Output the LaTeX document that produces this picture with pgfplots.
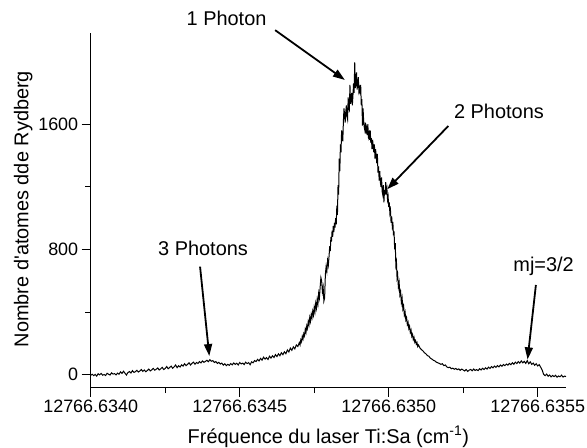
\documentclass[border=0pt]{standalone}
\usepackage{pgfplots}
\pgfplotsset{compat=1.18}
\usetikzlibrary{arrows.meta}
\usepackage{fontspec}
\setmainfont{Liberation Sans}
\begin{document}
\begin{tikzpicture}
\begin{axis}[
  scale only axis,
  width=475.3bp, height=354.4bp,
  xmin=0, xmax=15.95, ymin=-83, ymax=2180,
  axis x line*=bottom, axis y line*=left,
  axis line style={line width=0.9bp},
  every tick/.style={line width=0.9bp, black},
  tick align=outside,
  major tick length=9bp, minor tick length=5.5bp,
  xtick={0,5,10,15},
  xticklabels={12766.6340,12766.6345,12766.6350,12766.6355},
  minor x tick num=1,
  ytick={0,800,1600},
  minor y tick num=1,
  /pgf/number format/assume math mode=true,
  /pgf/number format/1000 sep={},
  tick label style={font=\fontsize{18}{20}\selectfont},
  label style={font=\fontsize{20}{22}\selectfont},
  xlabel={Fréquence du laser Ti:Sa (cm\textsuperscript{-1})},
  ylabel={Nombre d\textquotesingle atomes dde Rydberg},
  xlabel style={at={(axis description cs:0.5,-0.139)}, anchor=center},
  ylabel style={at={(axis description cs:-0.142,0.504)}, anchor=center, rotate=0},
  clip=false,
]
\addplot[black, line width=1bp, mark=none] coordinates {
(0.00,-4)(0.05,3)(0.10,-6)(0.15,2)(0.20,-9)(0.25,6)(0.30,-1)(0.35,8)(0.40,-3)(0.45,1)
(0.50,-5)(0.55,9)(0.60,3)(0.65,-2)(0.70,12)(0.75,4)(0.80,7)(0.85,-1)(0.90,10)(0.95,3)
(1.00,18)(1.05,8)(1.10,22)(1.15,10)(1.20,-2)(1.25,14)(1.30,20)(1.35,11)(1.40,26)(1.45,15)
(1.50,19)(1.55,28)(1.60,17)(1.65,24)(1.70,33)(1.75,21)(1.80,30)(1.85,19)(1.90,27)(1.95,36)
(2.00,24)(2.05,31)(2.10,40)(2.15,29)(2.20,35)(2.25,43)(2.30,30)(2.35,38)(2.40,47)(2.45,33)
(2.50,40)(2.55,52)(2.60,38)(2.65,46)(2.70,55)(2.75,41)(2.80,50)(2.85,62)(2.90,45)(2.95,57)
(3.00,49)(3.05,63)(3.10,55)(3.15,70)(3.20,58)(3.25,66)(3.30,76)(3.35,62)(3.40,73)(3.45,80)
(3.50,67)(3.55,78)(3.60,72)(3.65,84)(3.70,75)(3.75,88)(3.80,79)(3.85,85)(3.90,92)(3.95,83)
(4.00,96)(4.05,86)(4.10,90)(4.15,78)(4.20,84)(4.25,72)(4.30,79)(4.35,68)(4.40,74)(4.45,61)
(4.50,70)(4.55,58)(4.60,66)(4.65,60)(4.70,71)(4.75,63)(4.80,75)(4.85,66)(4.90,73)(4.95,62)
(5.00,78)(5.05,69)(5.10,74)(5.15,65)(5.20,80)(5.25,71)(5.30,77)(5.35,64)(5.40,82)(5.45,76)
(5.50,90)(5.55,84)(5.60,98)(5.65,88)(5.70,104)(5.75,93)(5.80,112)(5.85,100)(5.90,109)(5.95,97)
(6.00,118)(6.05,106)(6.10,121)(6.15,110)(6.20,128)(6.25,116)(6.30,133)(6.35,121)(6.40,140)(6.45,128)
(6.50,146)(6.55,134)(6.60,158)(6.65,145)(6.70,170)(6.75,156)(6.80,178)(6.85,165)(6.90,190)(6.95,180)
(7.000,205)(7.025,190)(7.050,222)(7.075,210)(7.100,245)(7.125,228)(7.150,262)(7.175,248)(7.200,290)(7.225,270)
(7.250,312)(7.275,295)(7.300,340)(7.325,318)(7.350,365)(7.375,340)(7.400,385)(7.425,362)(7.450,405)(7.475,380)
(7.500,430)(7.525,400)(7.550,455)(7.575,425)(7.600,480)(7.625,450)(7.650,520)(7.675,490)(7.700,560)(7.725,620)
(7.750,600)(7.775,530)(7.800,560)(7.825,470)(7.850,490)(7.875,640)(7.900,690)(7.925,660)(7.950,730)(7.975,700)
(8.00,760)(8.02,820)(8.04,790)(8.06,880)(8.08,850)(8.10,920)(8.12,880)(8.14,950)(8.16,910)(8.18,970)
(8.20,940)(8.22,1000)(8.24,960)(8.26,1080)(8.28,1020)(8.30,1210)(8.32,1150)(8.34,1380)(8.36,1300)(8.38,1470)
(8.40,1420)(8.42,1560)(8.44,1530)(8.46,1490)(8.48,1620)(8.50,1700)(8.52,1660)(8.54,1610)(8.56,1680)(8.58,1720)
(8.60,1650)(8.62,1630)(8.64,1770)(8.66,1700)(8.68,1690)(8.70,1850)(8.72,1730)(8.74,1760)(8.76,1800)(8.78,1720)
(8.80,1780)(8.82,1860)(8.84,1800)(8.86,1995)(8.88,1830)(8.90,1870)(8.92,1930)(8.94,1820)(8.96,1860)(8.98,1900)
(9.00,1810)(9.02,1830)(9.04,1790)(9.06,1850)(9.08,1720)(9.10,1760)(9.12,1590)(9.14,1700)(9.16,1620)(9.18,1580)
(9.20,1560)(9.22,1610)(9.24,1540)(9.26,1570)(9.28,1530)(9.30,1600)(9.32,1520)(9.34,1540)(9.36,1500)(9.38,1560)
(9.40,1480)(9.42,1510)(9.44,1440)(9.46,1500)(9.48,1460)(9.50,1420)(9.52,1470)(9.54,1380)(9.56,1440)(9.58,1400)
(9.60,1350)(9.62,1410)(9.64,1290)(9.66,1330)(9.68,1240)(9.70,1300)(9.72,1230)(9.74,1200)(9.76,1260)(9.78,1170)
(9.80,1150)(9.82,1210)(9.84,1100)(9.86,1180)(9.88,1150)(9.90,1230)(9.92,1170)(9.94,1190)(9.96,1120)(9.98,1140)
(10.00,1070)(10.02,1100)(10.04,1030)(10.06,1050)(10.08,970)(10.10,1010)(10.12,950)(10.14,975)(10.16,890)(10.18,915)
(10.20,800)(10.22,840)(10.24,700)(10.26,720)(10.28,620)(10.30,640)
(10.325,560)(10.350,590)(10.375,510)(10.400,530)(10.425,460)(10.450,490)(10.475,420)(10.500,440)(10.525,380)(10.550,400)
(10.575,350)(10.600,365)(10.625,320)(10.650,335)(10.675,295)(10.700,310)(10.725,270)(10.750,285)(10.775,245)(10.800,258)
(10.825,225)(10.850,238)(10.875,208)(10.900,218)(10.925,195)(10.950,205)(10.975,180)(11.000,190)
(11.05,170)(11.10,160)(11.15,152)(11.20,140)(11.25,133)(11.30,122)(11.35,118)(11.40,105)(11.45,100)(11.50,92)
(11.55,88)(11.60,80)(11.65,76)(11.70,72)(11.75,66)(11.80,70)(11.85,58)(11.90,62)(11.95,50)(12.00,45)
(12.05,48)(12.10,38)(12.15,42)(12.20,35)(12.25,40)(12.30,32)(12.35,37)(12.40,28)(12.45,36)(12.50,30)
(12.55,24)(12.60,33)(12.65,21)(12.70,29)(12.75,34)(12.80,25)(12.85,36)(12.90,27)(12.95,33)(13.00,26)
(13.05,38)(13.10,30)(13.15,41)(13.20,33)(13.25,44)(13.30,36)(13.35,48)(13.40,40)(13.45,52)(13.50,44)
(13.55,55)(13.60,47)(13.65,58)(13.70,50)(13.75,62)(13.80,54)(13.85,65)(13.90,58)(13.95,68)(14.00,61)
(14.05,72)(14.10,64)(14.15,76)(14.20,67)(14.25,80)(14.30,71)(14.35,84)(14.40,74)(14.45,88)(14.50,76)
(14.55,85)(14.60,72)(14.65,90)(14.70,70)(14.75,82)(14.80,66)(14.85,74)(14.90,60)(14.95,70)(15.00,56)
(15.05,64)(15.10,48)(15.15,30)(15.20,2)(15.25,-6)(15.30,4)(15.35,-10)(15.40,-2)(15.45,-14)(15.50,-5)
(15.55,-12)(15.60,-4)(15.65,-16)(15.70,-8)(15.75,-13)(15.80,-3)(15.85,-15)(15.90,-9)(15.95,-12)
};
\tikzset{ann/.style={font=\fontsize{20}{22}\selectfont, anchor=center}}
\node[ann] at (axis cs:4.56,2278) {1 Photon};
\node[ann] at (axis cs:13.7,1679) {2 Photons};
\node[ann] at (axis cs:3.77,807) {3 Photons};
\node[ann] at (axis cs:15.2,690) {mj=3/2};
\begin{scope}[line width=1.8bp, -{Triangle[length=12bp,width=8bp]}]
\draw (axis cs:6.19,2200) -- (axis cs:8.53,1882);
\draw (axis cs:12.0,1588) -- (axis cs:9.95,1184);
\draw (axis cs:3.67,690) -- (axis cs:3.98,119);
\draw (axis cs:14.94,573) -- (axis cs:14.66,98);
\end{scope}
\end{axis}
\pgfresetboundingbox
\path (current axis.south west) ++(-90.7bp,-60.3bp) rectangle ++(587bp,448bp);
\end{tikzpicture}
\end{document}
